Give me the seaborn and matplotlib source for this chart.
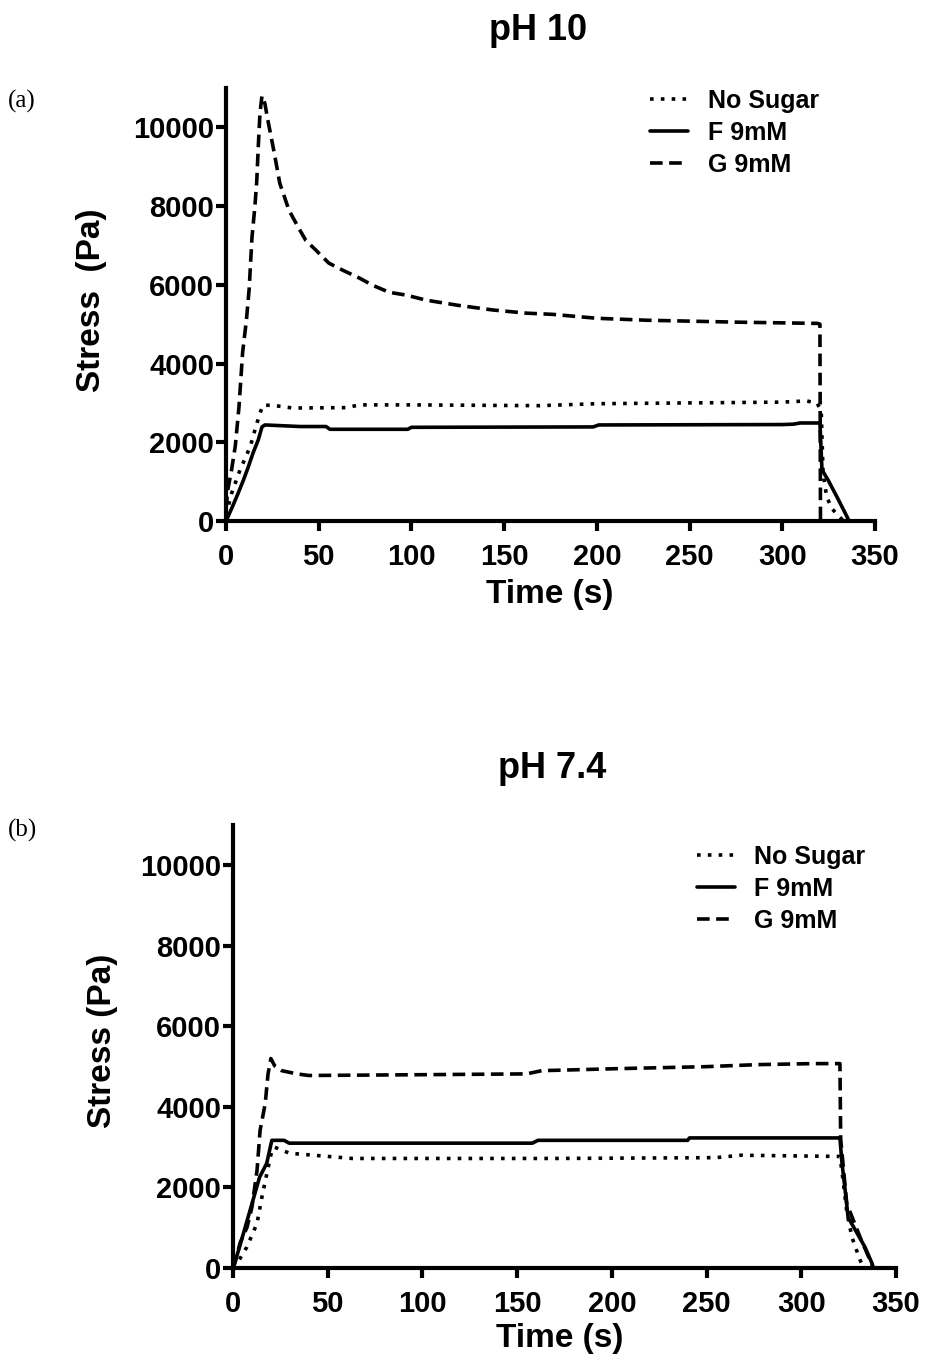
import matplotlib
matplotlib.use("Agg")
import matplotlib.pyplot as plt
import numpy as np
import pandas as pd
import seaborn as sns

# ---------------- data ----------------
order = ["No Sugar", "F 9mM", "G 9mM"]

# pH 10
t_ns10 = [0, 3, 7.5, 13, 15.6, 18.3, 20, 25, 36, 65, 72, 100, 169, 200, 250, 300, 313, 318.7, 321, 322, 324, 327, 331, 333]
s_ns10 = [150, 700, 1290, 1880, 2310, 2740, 2940, 2940, 2870, 2880, 2950, 2950, 2930, 2980, 3000, 3020, 3050, 3000, 2800, 1200, 600, 300, 100, 0]

t_f10 = [0, 1, 3.8, 6.5, 9.4, 12, 14.6, 17.4, 19.4, 21, 40, 54, 56, 98, 100, 198, 201, 300, 306, 309.6, 320.3, 321.4, 324.7, 329.5, 335, 336]
s_f10 = [0, 100, 400, 700, 1040, 1370, 1730, 2060, 2390, 2440, 2400, 2400, 2330, 2330, 2380, 2390, 2440, 2450, 2460, 2490, 2490, 1300, 1040, 610, 100, 0]

t_g10 = [0, 1, 3, 5, 7, 9, 11, 12.5, 14, 15.6, 16.6, 17.4, 18.3, 19.4, 21, 22.5, 25, 27, 29, 34, 39, 43, 48.5, 55.5, 63, 72, 79, 88, 97, 108, 125, 144, 162, 176, 200, 227, 277, 319, 320.3, 320.6]
s_g10 = [300, 800, 1300, 1900, 2900, 4300, 5100, 5900, 7200, 8000, 8650, 9500, 10350, 10800, 10600, 10200, 9600, 9100, 8580, 7890, 7460, 7130, 6880, 6550, 6370, 6170, 5990, 5810, 5740, 5610, 5480, 5360, 5280, 5250, 5150, 5100, 5050, 5020, 5000, 0]

# pH 7.4
t_ns7 = [0, 2, 7.3, 12.7, 15.3, 17.9, 20.5, 22, 29.8, 63, 170, 255, 268, 320.4, 322, 324, 326.7, 331, 333]
s_ns7 = [0, 100, 520, 1110, 1770, 2350, 2920, 3000, 2850, 2720, 2720, 2740, 2800, 2770, 2200, 1400, 770, 200, 0]

t_f7 = [0, 3, 9, 14, 17.8, 20.5, 27, 29.6, 158, 161, 240, 241, 320.4, 321.5, 323, 324.7, 329.4, 333.6, 337.3, 338]
s_f7 = [0, 450, 1430, 2250, 2600, 3170, 3170, 3100, 3100, 3170, 3170, 3230, 3230, 2600, 2000, 1260, 870, 520, 120, 0]

t_g7 = [0, 1, 3.7, 7.4, 10, 12.7, 14.3, 17, 18.5, 20, 22, 25.7, 33.8, 40, 100, 155, 163, 203, 250, 277, 306, 320.4, 320.8, 324, 331, 337, 338]
s_g7 = [0, 120, 620, 1010, 1510, 2430, 3420, 4080, 4820, 5200, 5020, 4900, 4820, 4780, 4800, 4820, 4900, 4950, 5000, 5050, 5075, 5075, 3200, 1600, 770, 120, 0]

x_ticks = [0, 50, 100, 150, 200, 250, 300, 350]
y_ticks = [0, 2000, 4000, 6000, 8000, 10000]


def frame(series):
    parts = []
    for name, t, s in series:
        parts.append(pd.DataFrame({"Time": t, "Stress": s, "Sample": name}))
    return pd.concat(parts, ignore_index=True)


df10 = frame([("No Sugar", t_ns10, s_ns10), ("F 9mM", t_f10, s_f10), ("G 9mM", t_g10, s_g10)])
df7 = frame([("No Sugar", t_ns7, s_ns7), ("F 9mM", t_f7, s_f7), ("G 9mM", t_g7, s_g7)])

# ---------------- styling ----------------
sns.set_style("ticks", {"axes.edgecolor": "black", "text.color": "black",
                        "axes.labelcolor": "black", "xtick.color": "black",
                        "ytick.color": "black"})
plt.rcParams["font.family"] = ["Liberation Sans", "DejaVu Sans"]
plt.rcParams["font.weight"] = "bold"
plt.rcParams["axes.labelweight"] = "bold"
plt.rcParams["text.color"] = "black"

fig = plt.figure(figsize=(9.27, 13.62), dpi=100)
W, H = 927, 1362
ax1 = fig.add_axes([226 / W, 1 - 521 / H, 649 / W, 433 / H])
ax2 = fig.add_axes([233 / W, 1 - 1268 / H, 663 / W, 443 / H])

dashes = {"No Sugar": (1, 2), "F 9mM": "", "G 9mM": (3.5, 1.8)}
LW = 2.6


def draw(ax, df, ylabel, ylab_xy, xlab_xy, leg_xy):
    sns.lineplot(data=df, x="Time", y="Stress", style="Sample", style_order=order,
                 dashes=dashes, color="black", linewidth=LW, estimator=None,
                 sort=False, ax=ax, legend=True)
    ax.set_xlim(0, 350)
    ax.set_ylim(0, 11000)
    ax.set_xticks(x_ticks)
    ax.set_yticks(y_ticks)
    sns.despine(ax=ax)
    for sp in ("left", "bottom"):
        ax.spines[sp].set_linewidth(3)
        ax.spines[sp].set_color("black")
    ax.tick_params(axis="both", width=3, length=7, labelsize=21, color="black",
                   labelcolor="black")
    ax.tick_params(axis="x", pad=8.5)
    ax.tick_params(axis="y", pad=1.5)
    for lab in ax.get_xticklabels() + ax.get_yticklabels():
        lab.set_fontweight("bold")
    ax.set_ylabel(ylabel, fontsize=24, fontweight="bold", color="black")
    ax.set_xlabel("Time (s)", fontsize=24, fontweight="bold", color="black")
    ax.yaxis.set_label_coords(*ylab_xy)
    ax.xaxis.set_label_coords(*xlab_xy)

    leg = ax.get_legend()
    handles = list(leg.legend_handles)
    labels = [t.get_text() for t in leg.texts]
    leg.remove()
    for h in handles:
        h.set_color("black")
        h.set_linewidth(LW)
    lg = ax.legend(handles, labels, loc="upper left", bbox_to_anchor=leg_xy,
                   bbox_transform=fig.transFigure, frameon=False, borderpad=0,
                   borderaxespad=0, handlelength=1.5, handletextpad=0.8,
                   labelspacing=0.32, prop={"size": 18, "weight": "bold"})
    for t in lg.get_texts():
        t.set_color("black")


draw(ax1, df10, "Stress  (Pa)", (-0.183, 0.51), (0.499, -0.134), (650 / W, 1 - 89 / H))
draw(ax2, df7, "Stress (Pa)", (-0.173, 0.512), (0.493, -0.124), (697 / W, 1 - 845 / H))

fig.text(538 / W, 1 - 30 / H, "pH 10", ha="center", va="center", fontsize=26,
         fontweight="bold", color="black")
fig.text(552 / W, 1 - 768 / H, "pH 7.4", ha="center", va="center", fontsize=26,
         fontweight="bold", color="black")
fig.text(8 / W, 1 - 101 / H, "(a)", ha="left", va="center", fontsize=18, color="black",
         family=["Liberation Serif", "DejaVu Serif"], fontweight="normal")
fig.text(8 / W, 1 - 830 / H, "(b)", ha="left", va="center", fontsize=18, color="black",
         family=["Liberation Serif", "DejaVu Serif"], fontweight="normal")

fig.savefig("out.png", dpi=100)
